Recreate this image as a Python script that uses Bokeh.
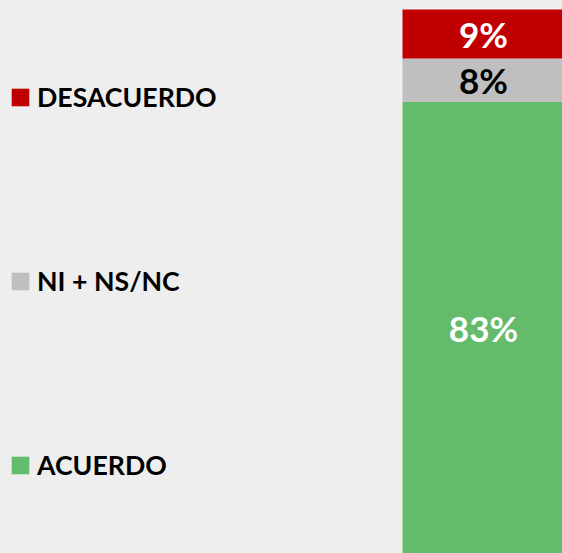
from bokeh.plotting import figure
from bokeh.models import ColumnDataSource, Legend, LegendItem, Range1d
from bokeh.core.properties import value
from bokeh.embed import file_html
from bokeh.resources import INLINE

# ---- data ----
categories = ["ACUERDO", "NI + NS/NC", "DESACUERDO"]
keys = ["acuerdo", "ni", "desacuerdo"]
values = [83, 8, 9]
labels = ["83%", "8%", "9%"]

# ---- styles ----
bar_colors = ["#63BB6B", "#BFBFBF", "#C00000"]
label_colors = ["#FFFFFF", "#000000", "#FFFFFF"]
BG = "#EEEEEE"
FONT = "Lato"

W, H = 562, 553
p = figure(width=W, height=H, output_backend="svg", toolbar_location=None,
           x_axis_location=None, y_axis_location=None, min_border=0,
           x_range=Range1d(-2.9815, 0.4877), y_range=Range1d(0, 101.654),
           background_fill_color=BG, border_fill_color=BG, outline_line_color=None)
p.grid.visible = False

bar_src = ColumnDataSource(dict(x=[0], **{k: [v] for k, v in zip(keys, values)}))
rs = p.vbar_stack(keys, x="x", width=1, color=bar_colors, line_color=None, source=bar_src)

# label positions: middle of each stacked segment
mids = []
acc = 0
for v in values:
    mids.append(acc + v / 2)
    acc += v
lab_src = ColumnDataSource(dict(x=[0] * len(values), y=mids, text=labels, color=label_colors))
p.text(x="x", y="y", text="text", text_color="color", source=lab_src,
       text_align="center", text_baseline="middle",
       text_font=value(FONT), text_font_style="bold", text_font_size="35px")

items = [LegendItem(label=c, renderers=[r]) for c, r in zip(categories, rs)][::-1]
legend = Legend(items=items, location=(9, 72), orientation="vertical",
                glyph_width=22, glyph_height=22, label_standoff=6,
                spacing=152, padding=0, margin=0,
                border_line_alpha=0, background_fill_alpha=0,
                label_text_font=FONT, label_text_font_style="bold",
                label_text_font_size="26.7px", label_text_color="#000000")
p.add_layout(legend)

html = file_html(p, INLINE)
html = html.replace("<head>", "<head><style>html,body{background:#EEEEEE;}</style>", 1)
open("out.html", "w").write(html)
